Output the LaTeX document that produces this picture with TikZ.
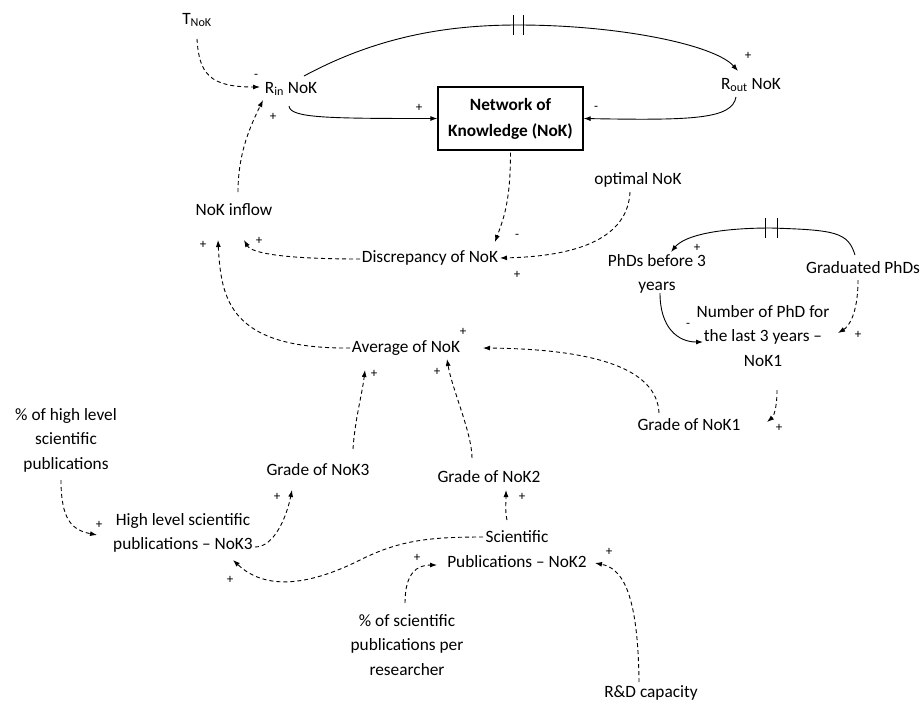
\documentclass[tikz,border=0pt]{standalone}
\usepackage{fontspec}
\setmainfont{Carlito}
\usetikzlibrary{arrows.meta,calc}
\begin{document}
\begin{tikzpicture}[x=1pt,y=-1pt,
  lbl/.style={font=\fontsize{17.3}{24.5}\selectfont, align=center, inner sep=1pt},
  stock/.style={draw, line width=1.3pt, minimum width=145pt, minimum height=63pt, inner sep=0pt,
                font=\bfseries\fontsize{17.3}{26}\selectfont, align=center},
  sgn/.style={font=\fontsize{13}{14}\selectfont, inner sep=0pt},
  link/.style={line width=0.9pt, -{Latex[length=7pt,width=5pt]}},
  dlink/.style={link, dash pattern=on 4pt off 3pt},
  delaytick/.style={line width=0.9pt}]
\useasboundingbox (0,0) rectangle (924,705);

% variables
\node[lbl] (tnok)   at (197,20)  {T\textsubscript{NoK}};
\node[lbl] (rin)    at (291,89)  {R\textsubscript{in} NoK};
\node[stock] (nok)  at (510.5,118.5) {Network of\\Knowledge (NoK)};
\node[lbl] (rout)   at (751,85)  {R\textsubscript{out} NoK};
\node[lbl] (inflow) at (234,210) {NoK inflow};
\node[lbl] (disc)   at (430,258) {Discrepancy of NoK};
\node[lbl] (opt)    at (638,180) {optimal NoK};
\node[lbl] (phdb)   at (657,274) {PhDs before 3\\years};
\node[lbl] (grad)   at (863,268) {Graduated PhDs};
\node[lbl] (nphd)   at (763,336) {Number of PhD for\\the last 3 years --\\NoK1};
\node[lbl] (avg)    at (406,348) {Average of NoK};
\node[lbl] (g1)     at (689,425) {Grade of NoK1};
\node[lbl] (phigh)  at (66,440)  {\% of high level\\scientific\\publications};
\node[lbl] (hl)     at (183,533) {High level scientific\\publications -- NoK3};
\node[lbl] (g3)     at (318,470) {Grade of NoK3};
\node[lbl] (g2)     at (489,477) {Grade of NoK2};
\node[lbl] (sci)    at (517,549) {Scientific\\Publications -- NoK2};
\node[lbl] (psci)   at (407,645) {\% of scientific\\publications per\\researcher};
\node[lbl] (rd)     at (651,693) {R\&D capacity};

% delay points
\coordinate (d1) at (518,25);
\coordinate (d2) at (771,228);
\coordinate (w1) at (360,560);

% solid links
\draw[link] ($(rin)+(-2,17)$) .. controls +(1,12) and +(-110,0) .. (nok.west);
\draw[link] ($(rin)+(13,-13)$) .. controls +(76,-41) and +(-67,0) .. (d1)
            .. controls +(102,0) and +(-23,-26) .. ($(rout)+(-13,-14)$);
\draw[delaytick] ($(d1)+(-5,-10)$) -- +(0,20);
\draw[delaytick] ($(d1)+(5,-10)$) -- +(0,20);
\draw[link] ($(rout)+(-15,12)$) .. controls +(-4,22) and +(110,2) .. (nok.east);
\draw[link] ($(phdb)+(3,19)$) .. controls +(0,35) and +(-25,0) .. ($(nphd)+(-60,6)$);
\draw[link] ($(grad)+(-8,-13)$) .. controls +(-7,-23) and +(64,2) .. (d2)
            .. controls +(-51,0) and +(14,-17) .. ($(phdb)+(14,-22)$);
\draw[delaytick] ($(d2)+(-6,-10)$) -- +(0,20);
\draw[delaytick] ($(d2)+(6,-10)$) -- +(0,20);

% dashed links
\draw[dlink] ($(tnok)+(0,19)$) .. controls +(2,35) and +(-50,0) .. ($(rin)+(-31,-2)$);
\draw[dlink] ($(nok.south)+(0,2)$) .. controls +(0,50) and +(8,-22) .. ($(disc)+(65,-16)$);
\draw[dlink] ($(opt)+(-8,12)$) .. controls +(-2,40) and +(90,-2) .. ($(disc)+(70,0)$);
\draw[dlink] ($(inflow)+(4,-18)$) .. controls +(0,-40) and +(-12,25) .. ($(rin)+(-28,11)$);
\draw[dlink] ($(disc)+(-70,1)$) .. controls +(-70,0) and +(8,14) .. ($(inflow)+(10,30)$);
\draw[dlink] ($(avg)+(-56,0)$) .. controls +(-120,1) and +(3,60) .. ($(inflow)+(-16,30)$);
\draw[dlink] ($(g1)+(-30,-12)$) .. controls +(-2,-45) and +(110,1) .. ($(avg)+(77,0)$);
\draw[dlink] ($(grad)+(-5,12)$) .. controls +(0,35) and +(10,-6) .. ($(nphd)+(75,-3)$);
\draw[dlink] ($(nphd)+(14,54)$) .. controls +(0,20) and +(6,-5) .. ($(g1)+(78,-3)$);
\draw[dlink] ($(g3)+(35,-21)$) .. controls +(2,-30) and +(-3,25) .. ($(avg)+(-41,22)$);
\draw[dlink] ($(g2)+(-17,-19)$) .. controls +(0,-25) and +(5,30) .. ($(avg)+(41,11)$);
\draw[dlink] ($(hl)+(72,14)$) .. controls +(20,0) and +(-5,25) .. ($(g3)+(-26,20)$);
\draw[dlink] ($(phigh)+(-5,40)$) .. controls +(0,40) and +(-25,-5) .. ($(hl)+(-86,2)$);
\draw[dlink] ($(sci)+(-10,-29)$) .. controls +(-2,-8) and +(0,12) .. ($(g2)+(17,13)$);
\draw[dlink] ($(sci)+(-34,-12)$) .. controls +(-53,0) and +(40,-20) .. (w1)
             .. controls +(-40,20) and +(37,35) .. ($(hl)+(50,27)$);
\draw[dlink] ($(psci)+(-2,-42)$) .. controls +(0,-30) and +(-20,0) .. ($(sci)+(-80,16)$);
\draw[dlink] ($(rd)+(-12,-11)$) .. controls +(-1,-95) and +(25,5) .. ($(sci)+(78,14)$);

% polarity signs
\node[sgn] (s1)  at (256,76)  {-};
\node[sgn] (s2)  at (419,108) {+};
\node[sgn] (s3)  at (748,56)  {+};
\node[sgn] (s4)  at (596,108) {-};
\node[sgn] (s5)  at (517,236) {-};
\node[sgn] (s6)  at (517,275) {+};
\node[sgn] (s7)  at (273,117) {+};
\node[sgn] (s8)  at (259,241) {+};
\node[sgn] (s9)  at (203,245) {+};
\node[sgn] (s10) at (463,332) {+};
\node[sgn] (s11) at (688,325) {-};
\node[sgn] (s12) at (697,248) {+};
\node[sgn] (s13) at (858,335) {+};
\node[sgn] (s14) at (779,428) {+};
\node[sgn] (s15) at (374,374) {+};
\node[sgn] (s16) at (437,372) {+};
\node[sgn] (s17) at (277,497) {+};
\node[sgn] (s18) at (99,525)  {+};
\node[sgn] (s19) at (522,497) {+};
\node[sgn] (s20) at (230,580) {+};
\node[sgn] (s21) at (417,558) {+};
\node[sgn] (s22) at (609,552) {+};
\end{tikzpicture}
\end{document}
